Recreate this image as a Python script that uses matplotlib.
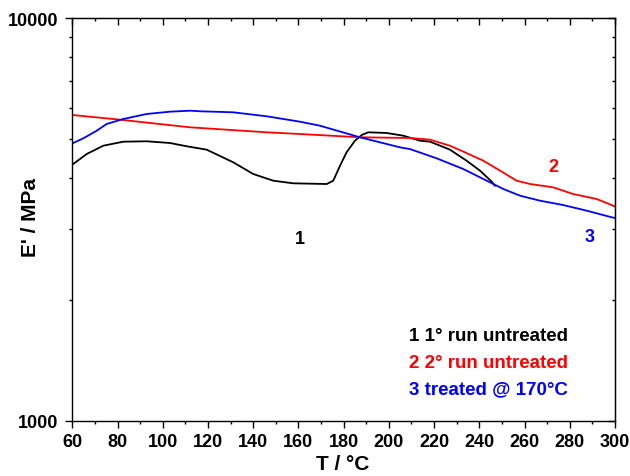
import numpy as np
import matplotlib
matplotlib.use("Agg")
import matplotlib.pyplot as plt
from matplotlib.ticker import MultipleLocator, LogLocator, NullFormatter, FuncFormatter

plt.rcParams['font.family'] = ['Liberation Sans', 'DejaVu Sans']
plt.rcParams['font.weight'] = 'bold'

# curve 1: 1st run untreated
t1 = [60, 66.4, 73.7, 82.6, 92.9, 103.2, 110.6, 119.4, 131.2, 140, 148.9, 157.7,
      172.5, 175.4, 178.4, 181.3, 185, 188, 190.9, 199, 206.4, 213.8, 218.2,
      227, 234.4, 240.3, 245.5, 246.9]
e1 = [4327, 4601, 4824, 4936, 4947, 4899, 4808, 4716, 4386, 4103, 3948, 3890,
      3874, 3948, 4302, 4645, 4964, 5129, 5208, 5188, 5108, 4964, 4936,
      4716, 4426, 4182, 3926, 3837]

# curve 2: 2nd run untreated
t2 = [60, 81.1, 112.1, 146, 160.7, 187.2, 209.3, 218.2, 227, 233.6, 241.8,
      249.2, 256.5, 262.5, 272.6, 281.4, 291.9, 298.5, 300]
e2 = [5751, 5598, 5359, 5208, 5158, 5062, 5041, 4993, 4824, 4645, 4426,
      4182, 3948, 3874, 3802, 3660, 3556, 3436, 3405]

# curve 3: treated @ 170 C
t3 = [60.4, 64.9, 70.8, 75.2, 82.6, 92.9, 103.2, 112.1, 116.5, 131.1, 146,
      160.7, 169.5, 187.2, 204.9, 209.3, 221.1, 232.9, 243.3, 250.6, 258,
      266.8, 277, 287.5, 298.5, 300]
e3 = [4899, 5033, 5256, 5462, 5621, 5784, 5861, 5894, 5874, 5840, 5708,
      5534, 5409, 5062, 4779, 4733, 4488, 4222, 3948, 3766, 3624,
      3522, 3436, 3326, 3203, 3190]

curve_labels = ["1", "2", "3"]
label_pos = [(160.7, 2829), (272.6, 4271), (288.9, 2877)]
legend_lines = ["1 1° run untreated", "2 2° run untreated", "3 treated @ 170°C"]
colors = ["black", "#FF0000", "#0000FF"]

fig = plt.figure(figsize=(6.3, 4.77), dpi=100)
ax = fig.add_axes([72.3 / 630, 1 - 421.7 / 477, 542.7 / 630, 402.4 / 477])

for t, e, c in zip([t1, t2, t3], [e1, e2, e3], colors):
    ax.plot(t, e, color=c, linewidth=1.3)

ax.set_yscale('log')
ax.set_xlim(60, 300)
ax.set_ylim(1000, 10000)
ax.xaxis.set_major_locator(MultipleLocator(20))
ax.xaxis.set_minor_locator(MultipleLocator(10))
ax.yaxis.set_major_locator(LogLocator(base=10))
ax.yaxis.set_minor_locator(LogLocator(base=10, subs=np.arange(2, 10)))
ax.yaxis.set_major_formatter(FuncFormatter(lambda v, p: "%d" % v))
ax.yaxis.set_minor_formatter(NullFormatter())

ax.tick_params(which='both', direction='out', top=False, right=False,
               labelsize=13, width=1.0)
ax.tick_params(which='major', length=5)
ax.tick_params(which='minor', length=2.5)
ax.tick_params(axis='y', pad=5)
ax.tick_params(axis='x', pad=4)
for lab in ax.get_xticklabels() + ax.get_yticklabels():
    lab.set_fontweight('bold')
for s in ax.spines.values():
    s.set_linewidth(1.0)

secx = ax.secondary_xaxis('top')
secx.xaxis.set_major_locator(MultipleLocator(20))
secx.xaxis.set_minor_locator(MultipleLocator(10))
secx.tick_params(which='both', direction='in', labeltop=False, width=1.0)
secx.tick_params(which='major', length=5)
secx.tick_params(which='minor', length=2.5)

secy = ax.secondary_yaxis('right')
secy.yaxis.set_major_locator(LogLocator(base=10))
secy.yaxis.set_minor_locator(LogLocator(base=10, subs=np.arange(2, 10)))
secy.yaxis.set_minor_formatter(NullFormatter())
secy.tick_params(which='both', direction='in', labelright=False, width=1.0)
secy.tick_params(which='major', length=5)
secy.tick_params(which='minor', length=2.5)

fig.text(343 / 630, 1 - 465 / 477, "T / °C", fontsize=15, fontweight='bold',
         ha='center', va='center')
fig.text(31 / 630, 1 - 218 / 477, "E' / MPa", fontsize=15, fontweight='bold',
         rotation=90, ha='center', va='center')

for lab, (x, y), c in zip(curve_labels, label_pos, colors):
    ax.text(x, y, lab, color=c, fontsize=13, fontweight='bold',
            ha='center', va='center')

for i, (txt, c) in enumerate(zip(legend_lines, colors)):
    ax.text(0.913, 0.2105 - i * 0.066, txt, color=c, fontsize=13.5,
            fontweight='bold', ha='right', va='center', transform=ax.transAxes)

fig.savefig("out.png", dpi=100)
